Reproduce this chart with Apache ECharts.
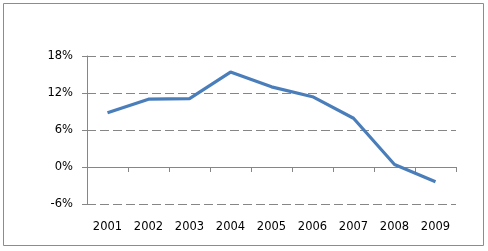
<!DOCTYPE html>
<html><head><meta charset="utf-8">
<script src="https://cdn.jsdelivr.net/npm/echarts@6/dist/echarts.min.js"></script>
<style>html,body{margin:0;padding:0;background:#fff}#c{width:488px;height:251px}</style>
</head><body><div id="c"></div>
<script>
const categories = ['2001','2002','2003','2004','2005','2006','2007','2008','2009'];
const values = [8.8, 11.0, 11.1, 15.4, 13.0, 11.4, 7.9, 0.4, -2.4];
const yTicks = [-6, 0, 6, 12, 18];

const chart = echarts.init(document.getElementById('c'), null, {renderer:'canvas'});
const font = '"DejaVu Sans", sans-serif';
chart.setOption({
  animation: false,
  graphic: [{type:'rect', shape:{x:3.5,y:3.5,width:480,height:242}, style:{fill:'none', stroke:'#8c8c8c', lineWidth:1}, silent:true}],
  grid: {left:87, right:32, top:56, bottom:47, containLabel:false, outerBoundsMode:'none'},
  xAxis: [
    {type:'category', data:categories, position:'bottom', boundaryGap:true,
     axisLine:{show:true, onZero:true, lineStyle:{color:'#868686', width:1}},
     axisTick:{show:true, length:5, lineStyle:{color:'#868686'}},
     axisLabel:{show:false}},
    {type:'category', data:categories, position:'bottom', boundaryGap:true,
     axisLine:{show:false, onZero:false}, axisTick:{show:false},
     axisLabel:{margin:17, color:'#000', fontSize:11.5, fontFamily:font}}
  ],
  yAxis: {type:'value', min:yTicks[0], max:yTicks[yTicks.length-1], interval:6,
    axisLine:{show:true, lineStyle:{color:'#868686'}},
    axisTick:{show:true, length:5, lineStyle:{color:'#868686'}},
    axisLabel:{margin:14, color:'#000', fontSize:11.5, fontFamily:font, formatter: v => v + '%'},
    splitLine:{show:true, lineStyle:{color:'#868686', type:[9,4], width:1}}
  },
  series: [{type:'line', xAxisIndex:0, data:values, symbol:'none', smooth:false,
    lineStyle:{color:'#4a7ebb', width:3.2}}]
});
</script></body></html>
